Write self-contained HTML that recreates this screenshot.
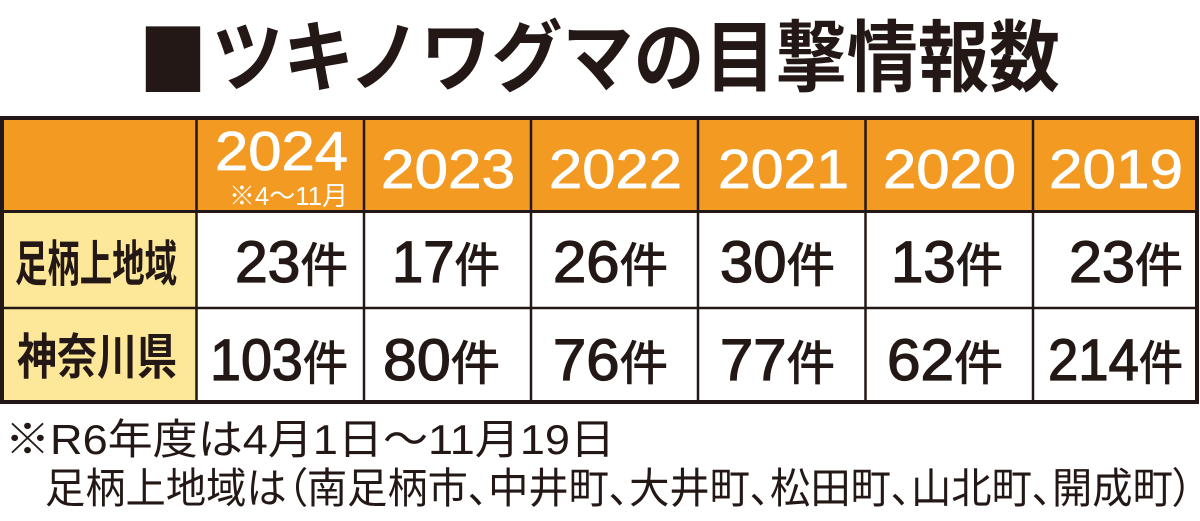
<!DOCTYPE html>
<html>
<head>
<meta charset="utf-8">
<style>
  html, body { margin: 0; padding: 0; background: #ffffff; }
  body { width: 1200px; height: 521px; overflow: hidden; }
  svg { display: block; }
  .jp { font-family: "Liberation Sans", "Noto Sans CJK JP", sans-serif; }
  .cjk { font-family: "Noto Sans CJK JP", "Liberation Sans", sans-serif; }
  .palt { font-feature-settings: "palt" 1; }
</style>
</head>
<body>
<svg width="1200" height="521" viewBox="0 0 1200 521" xmlns="http://www.w3.org/2000/svg">
  <rect x="0" y="0" width="1200" height="521" fill="#ffffff"/>

  <!-- Title -->
  <text class="cjk" x="139" y="90" font-size="82" fill="#231815"
        textLength="68" lengthAdjust="spacingAndGlyphs">■</text>
  <text class="cjk" x="212" y="85" font-size="78" font-weight="bold" fill="#231815"
        textLength="848" lengthAdjust="spacingAndGlyphs">ツキノワグマの目撃情報数</text>

  <!-- Header background -->
  <rect x="2" y="118" width="1196" height="94" fill="#F29A21"/>
  <!-- Label column background -->
  <rect x="2" y="211" width="195" height="191" fill="#FDE89A"/>

  <!-- Inner lines -->
  <g stroke="#231815" fill="none">
    <line x1="0" y1="211.5" x2="1199" y2="211.5" stroke-width="3"/>
    <line x1="0" y1="308" x2="1199" y2="308" stroke-width="2.5"/>
    <line x1="196.5" y1="118" x2="196.5" y2="402" stroke-width="2.5"/>
    <line x1="364" y1="118" x2="364" y2="402" stroke-width="2.5"/>
    <line x1="531" y1="118" x2="531" y2="402" stroke-width="2.5"/>
    <line x1="698" y1="118" x2="698" y2="402" stroke-width="2.5"/>
    <line x1="865.5" y1="118" x2="865.5" y2="402" stroke-width="2.5"/>
    <line x1="1033" y1="118" x2="1033" y2="402" stroke-width="2.5"/>
    <!-- Outer border -->
    <rect x="2" y="118" width="1195" height="284" stroke-width="4"/>
  </g>

  <!-- Header years -->
  <g class="jp" fill="#ffffff" stroke="#ffffff" stroke-width="0.8" font-size="55" text-anchor="end">
    <text x="348" y="170" textLength="133" lengthAdjust="spacingAndGlyphs">2024</text>
    <text x="515" y="188" textLength="134" lengthAdjust="spacingAndGlyphs">2023</text>
    <text x="682" y="188" textLength="133" lengthAdjust="spacingAndGlyphs">2022</text>
    <text x="849" y="188" textLength="131" lengthAdjust="spacingAndGlyphs">2021</text>
    <text x="1016" y="188" textLength="133" lengthAdjust="spacingAndGlyphs">2020</text>
    <text x="1183" y="188" textLength="134" lengthAdjust="spacingAndGlyphs">2019</text>
  </g>
  <text class="jp" x="348" y="205" font-size="26" fill="#ffffff" text-anchor="end"
        textLength="119" lengthAdjust="spacingAndGlyphs">※4〜11月</text>

  <!-- Row labels -->
  <g class="cjk" fill="#231815" font-weight="bold" font-size="49">
    <text x="15" y="281" textLength="162" lengthAdjust="spacingAndGlyphs">足柄上地域</text>
    <text x="17" y="374" textLength="160" lengthAdjust="spacingAndGlyphs">神奈川県</text>
  </g>

  <!-- Data row 1 -->
  <g class="jp" fill="#231815" stroke="#231815" stroke-width="1.3" font-size="58" text-anchor="end">
    <text x="348" y="282" textLength="113" lengthAdjust="spacingAndGlyphs">23<tspan font-size="47" stroke-width="1">件</tspan></text>
    <text x="500" y="282" textLength="108" lengthAdjust="spacingAndGlyphs">17<tspan font-size="47" stroke-width="1">件</tspan></text>
    <text x="668" y="282" textLength="115" lengthAdjust="spacingAndGlyphs">26<tspan font-size="47" stroke-width="1">件</tspan></text>
    <text x="835" y="282" textLength="115" lengthAdjust="spacingAndGlyphs">30<tspan font-size="47" stroke-width="1">件</tspan></text>
    <text x="1003" y="282" textLength="112" lengthAdjust="spacingAndGlyphs">13<tspan font-size="47" stroke-width="1">件</tspan></text>
    <text x="1183" y="282" textLength="114" lengthAdjust="spacingAndGlyphs">23<tspan font-size="47" stroke-width="1">件</tspan></text>
  </g>

  <!-- Data row 2 -->
  <g class="jp" fill="#231815" stroke="#231815" stroke-width="1.3" font-size="58" text-anchor="end">
    <text x="348" y="380" textLength="138" lengthAdjust="spacingAndGlyphs">103<tspan font-size="47" stroke-width="1">件</tspan></text>
    <text x="500" y="380" textLength="117" lengthAdjust="spacingAndGlyphs">80<tspan font-size="47" stroke-width="1">件</tspan></text>
    <text x="668" y="380" textLength="115" lengthAdjust="spacingAndGlyphs">76<tspan font-size="47" stroke-width="1">件</tspan></text>
    <text x="835" y="380" textLength="115" lengthAdjust="spacingAndGlyphs">77<tspan font-size="47" stroke-width="1">件</tspan></text>
    <text x="1003" y="380" textLength="116" lengthAdjust="spacingAndGlyphs">62<tspan font-size="47" stroke-width="1">件</tspan></text>
    <text x="1183" y="380" textLength="135" lengthAdjust="spacingAndGlyphs">214<tspan font-size="47" stroke-width="1">件</tspan></text>
  </g>

  <!-- Footnotes -->
  <g class="jp palt" fill="#231815" font-size="42">
    <text x="5" y="454" textLength="610" lengthAdjust="spacingAndGlyphs">※R6年度は4月1日〜11月19日</text>
    <text x="45" y="503" textLength="1148" lengthAdjust="spacingAndGlyphs">足柄上地域は（南足柄市、中井町、大井町、松田町、山北町、開成町）</text>
  </g>
</svg>
</body>
</html>
